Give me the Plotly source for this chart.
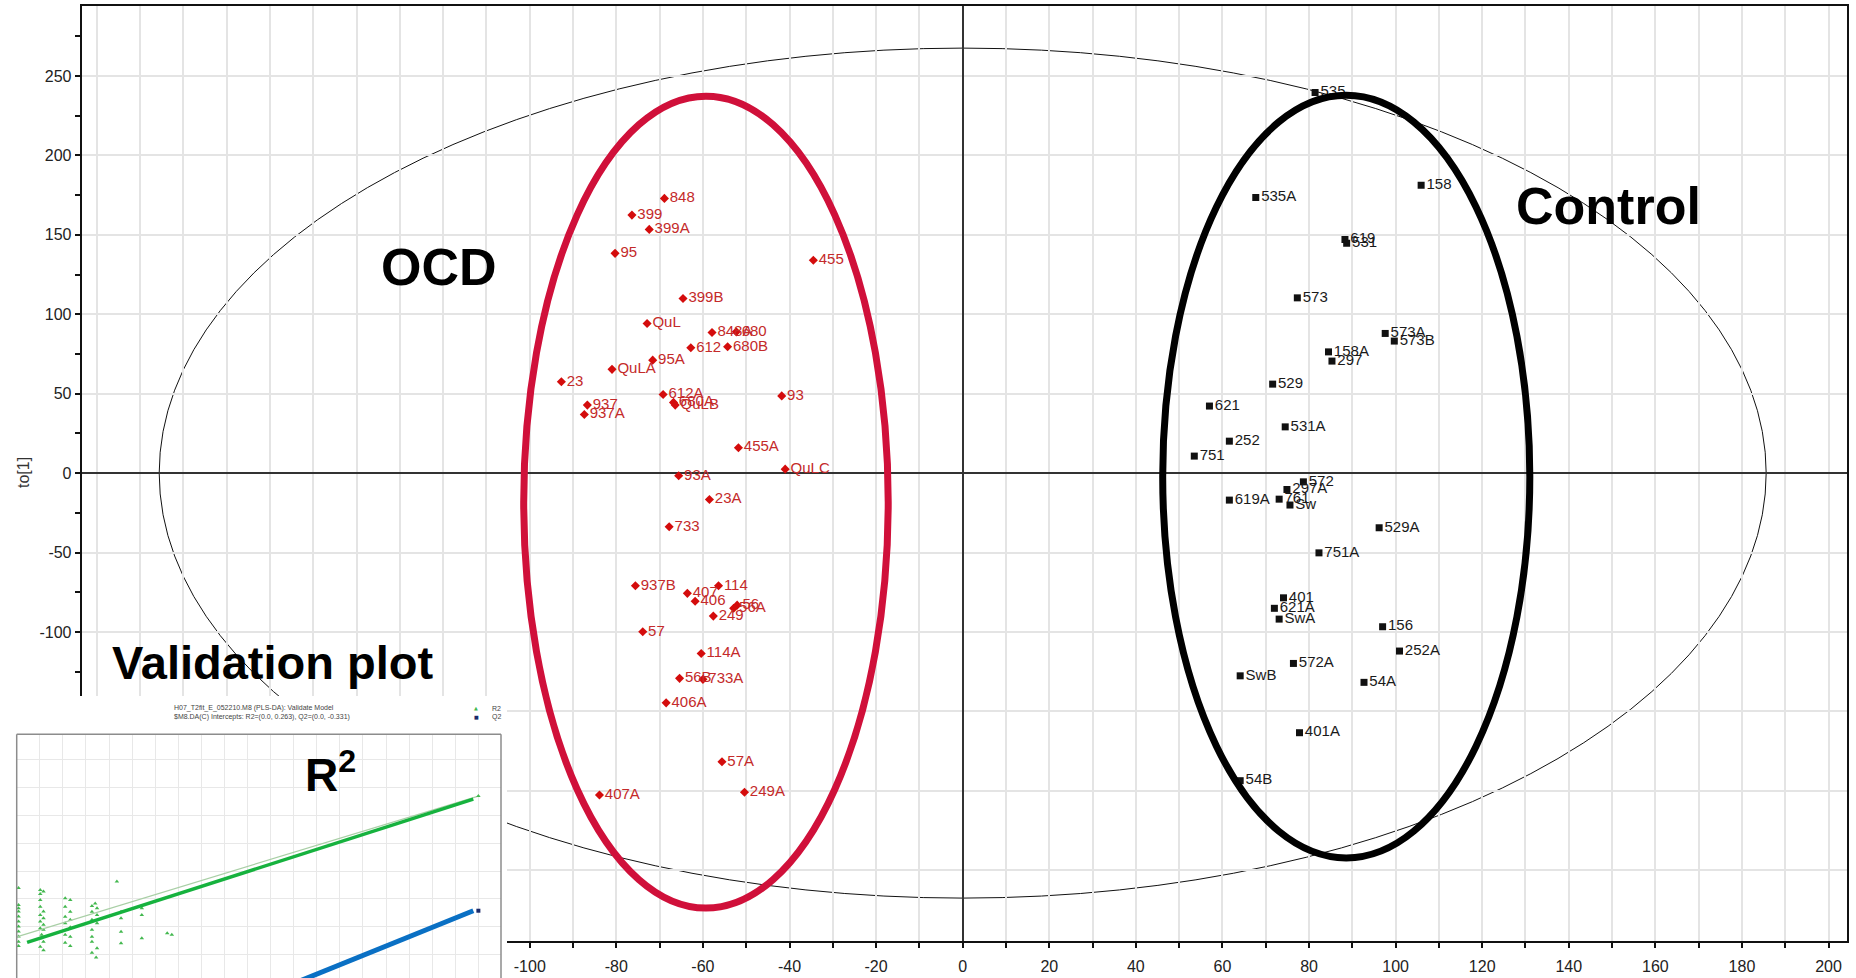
import plotly.graph_objects as go

# ---------------- score plot data (to[1] vs t[1]) ----------------
ocd_labels = ["848", "399", "399A", "95", "455", "399B", "QuL", "848A", "680", "612",
              "680B", "95A", "QuLA", "23", "612A", "680A", "QuLB", "937", "937A", "93",
              "455A", "QuLC", "93A", "23A", "733", "937B", "407", "114", "406", "56",
              "56A", "249", "57", "114A", "56B", "733A", "406A", "57A", "407A", "249A"]
ocd_t = [-68.9, -76.4, -72.4, -80.3, -34.5, -64.6, -72.9, -57.9, -52.3, -62.8,
         -54.3, -71.6, -81.0, -92.7, -69.2, -66.8, -66.4, -86.7, -87.4, -41.8,
         -51.8, -41.0, -65.6, -58.5, -67.8, -75.6, -63.6, -56.4, -61.8, -52.1,
         -52.9, -57.6, -73.9, -60.4, -65.4, -60.0, -68.5, -55.6, -83.9, -50.4]
ocd_to = [172.9, 162.4, 153.4, 138.3, 134.0, 109.9, 94.2, 88.5, 88.9, 78.9,
          79.5, 71.1, 65.3, 57.5, 49.5, 44.5, 42.8, 42.8, 36.9, 48.6,
          16.0, 2.5, -1.7, -16.6, -33.8, -70.9, -75.7, -70.9, -80.7, -83.1,
          -85.1, -90.0, -99.9, -113.5, -129.2, -129.8, -144.6, -181.7, -202.6, -200.9]

ctrl_labels = ["535", "158", "535A", "619", "531", "573", "573A", "573B", "158A", "297",
               "529", "621", "531A", "252", "751", "572", "297A", "619A", "761", "Sw",
               "529A", "751A", "401", "621A", "SwA", "156", "252A", "572A", "SwB", "54A",
               "401A", "54B"]
ctrl_t = [81.4, 105.9, 67.7, 88.3, 88.7, 77.3, 97.6, 99.7, 84.5, 85.3,
          71.6, 57.0, 74.5, 61.6, 53.5, 78.7, 74.9, 61.6, 73.1, 75.6,
          96.2, 82.3, 74.1, 72.0, 73.1, 97.0, 100.9, 76.4, 64.1, 92.7,
          77.8, 64.1]
ctrl_to = [239.6, 181.2, 173.5, 147.1, 144.6, 110.3, 87.9, 83.1, 76.3, 70.5,
           56.0, 42.2, 29.1, 20.1, 10.7, -5.5, -10.3, -17.0, -16.4, -20.1,
           -34.4, -50.2, -78.5, -85.1, -91.9, -96.7, -112.0, -119.8, -127.6, -131.7,
           -163.4, -193.6]

# Hotelling T2 (95%) ellipse semi-axes
t2_semi_t = 185.6
t2_semi_to = 267.5

# group outlines (t range, to range)
ocd_ring_t = [-101.4, -17.2]
ocd_ring_to = [-273.8, 237.2]
ctrl_ring_t = [46.2, 131.0]
ctrl_ring_to = [-242.2, 237.8]

x_tick_vals = list(range(-200, 201, 20))
x_tick_text = [str(v) for v in x_tick_vals]
y_tick_vals = list(range(-250, 251, 50))
y_tick_text = [str(v) for v in y_tick_vals]

# ---------------- permutation (validate model) data ----------------
perm_corr = [0.004, 0.004, 0.004, 0.004, 0.004, 0.004, 0.004, 0.004, 0.004, 0.004, 0.004,
             0.051, 0.058, 0.051, 0.051, 0.051, 0.058, 0.051, 0.058, 0.051, 0.058, 0.051,
             0.058, 0.054, 0.051, 0.058, 0.051, 0.058,
             0.105, 0.116, 0.105, 0.116, 0.105, 0.116, 0.105, 0.116, 0.108, 0.105, 0.116,
             0.105, 0.116,
             0.170, 0.163, 0.174, 0.163, 0.174, 0.163, 0.174, 0.163, 0.163, 0.163, 0.174,
             0.163, 0.172,
             0.217, 0.226, 0.226, 0.226, 0.226,
             0.271, 0.271, 0.271,
             0.326, 0.336]
perm_r2 = [0.439, 0.378, 0.366, 0.354, 0.336, 0.318, 0.300, 0.282, 0.264, 0.245, 0.230,
           0.432, 0.426, 0.417, 0.396, 0.371, 0.354, 0.342, 0.330, 0.318, 0.306, 0.294,
           0.288, 0.270, 0.258, 0.245, 0.227, 0.215,
           0.402, 0.396, 0.371, 0.353, 0.335, 0.324, 0.312, 0.297, 0.288, 0.270, 0.263,
           0.242, 0.230,
           0.383, 0.374, 0.366, 0.353, 0.342, 0.324, 0.312, 0.288, 0.263, 0.245, 0.222,
           0.206, 0.188,
           0.462, 0.353, 0.330, 0.281, 0.240,
           0.366, 0.342, 0.258,
           0.276, 0.270]
r2_fit_corr = [0.0, 1.0]
r2_fit_val = [0.263, 0.770]
r2_mark_corr = [0.0225, 0.989]
r2_mark_val = [0.243, 0.759]
q2_mark_corr = [0.60, 0.989]
q2_mark_val = [0.095, 0.357]
orig_corr = [1.0]
orig_r2 = [0.770]
orig_q2 = [0.357]

RED = "#d40c0c"
RED_TEXT = "#c42a2a"
RING_RED = "#d0103a"
FONT = "Liberation Sans, Arial, sans-serif"
GRID = "#e4e4e4"

fig = go.Figure()

fig.add_trace(go.Scatter(
    x=ocd_t, y=ocd_to, text=ocd_labels, mode="markers+text",
    textposition="middle right",
    marker=dict(symbol="diamond", size=7, color=RED),
    textfont=dict(family=FONT, size=15, color=RED_TEXT),
    showlegend=False, hoverinfo="skip", xaxis="x", yaxis="y"))

fig.add_trace(go.Scatter(
    x=ctrl_t, y=ctrl_to, text=ctrl_labels, mode="markers+text",
    textposition="middle right",
    marker=dict(symbol="square", size=7, color="#111111"),
    textfont=dict(family=FONT, size=15, color="#1a1a1a"),
    showlegend=False, hoverinfo="skip", xaxis="x", yaxis="y"))

# white panel holding the validation plot
fig.add_trace(go.Scatter(x=[], y=[], xaxis="x2", yaxis="y2", showlegend=False,
                         hoverinfo="skip"))

# validation plot
fig.add_trace(go.Scatter(
    x=perm_corr, y=perm_r2, mode="markers",
    marker=dict(symbol="triangle-up", size=4, color="#43b84f"),
    showlegend=False, hoverinfo="skip", xaxis="x3", yaxis="y3"))
fig.add_trace(go.Scatter(
    x=r2_fit_corr, y=r2_fit_val, mode="lines",
    line=dict(color="#a9cfa6", width=1.2),
    showlegend=False, hoverinfo="skip", xaxis="x3", yaxis="y3"))
fig.add_trace(go.Scatter(
    x=r2_mark_corr, y=r2_mark_val, mode="lines",
    line=dict(color="#16b23e", width=3.5),
    showlegend=False, hoverinfo="skip", xaxis="x3", yaxis="y3"))
fig.add_trace(go.Scatter(
    x=q2_mark_corr, y=q2_mark_val, mode="lines",
    line=dict(color="#0a70c4", width=5),
    showlegend=False, hoverinfo="skip", xaxis="x3", yaxis="y3"))
fig.add_trace(go.Scatter(
    x=orig_corr, y=orig_r2, mode="markers",
    marker=dict(symbol="triangle-up", size=4, color="#43b84f"),
    showlegend=False, hoverinfo="skip", xaxis="x3", yaxis="y3", cliponaxis=False))
fig.add_trace(go.Scatter(
    x=orig_corr, y=orig_q2, mode="markers",
    marker=dict(symbol="square", size=4, color="#1b2a6b"),
    showlegend=False, hoverinfo="skip", xaxis="x3", yaxis="y3", cliponaxis=False))

W, H = 1856, 978
px = lambda v: v / W
py = lambda v: 1 - v / H


def note(text, x, y, size, color="#000", bold=False, xanchor="center",
         yanchor="middle", family=FONT, angle=0):
    font = dict(family=family, size=size, color=color)
    if bold:
        font["weight"] = "bold"
    return dict(text=text, x=px(x), y=py(y), xref="paper", yref="paper",
                xanchor=xanchor, yanchor=yanchor, textangle=angle,
                showarrow=False, font=font)


shapes = [
    # Hotelling T2 ellipse (under the points, hidden by the inset panel)
    dict(type="circle", xref="x", yref="y", layer="below",
         x0=-t2_semi_t, x1=t2_semi_t, y0=-t2_semi_to, y1=t2_semi_to,
         line=dict(color="#111111", width=1)),
    dict(type="circle", xref="x", yref="y", layer="above",
         x0=ocd_ring_t[0], x1=ocd_ring_t[1], y0=ocd_ring_to[0], y1=ocd_ring_to[1],
         line=dict(color=RING_RED, width=7)),
    dict(type="circle", xref="x", yref="y", layer="above",
         x0=ctrl_ring_t[0], x1=ctrl_ring_t[1], y0=ctrl_ring_to[0], y1=ctrl_ring_to[1],
         line=dict(color="#000000", width=7)),
    # validation plot frame
    dict(type="line", xref="x3 domain", yref="y3 domain", x0=0, x1=0, y0=0, y1=1,
         line=dict(color="#8c8c8c", width=1.5), layer="above"),
    dict(type="line", xref="x3 domain", yref="y3 domain", x0=0, x1=1, y0=1, y1=1,
         line=dict(color="#8c8c8c", width=1.5), layer="above"),
    dict(type="line", xref="x3 domain", yref="y3 domain", x0=1, x1=1, y0=0, y1=1,
         line=dict(color="#8c8c8c", width=1.5), layer="above"),
]

annotations = [
    note("to[1]", 24, 473, 16, color="#333", angle=-90),
    note("OCD", 439, 267, 52, bold=True),
    note("Control", 1608, 206, 52, bold=True),
    note("Validation plot", 272.5, 662, 47, bold=True),
    note("R<sup>2</sup>", 303, 772, 46, bold=True, xanchor="left"),
    note("H07_T2fit_E_052210.M8 (PLS-DA): Validate Model", 172, 708, 7,
         color="#444", xanchor="left"),
    note("$M8.DA(C) Intercepts: R2=(0.0, 0.263), Q2=(0.0, -0.331)", 172, 717, 7,
         color="#444", xanchor="left"),
    note("\u25b2", 476, 708, 5, color="#43b84f", family="DejaVu Sans"),
    note("\u25a0", 476, 717, 5, color="#1b2a6b", family="DejaVu Sans"),
    note("R2", 490, 708, 7, color="#444", xanchor="left"),
    note("Q2", 490, 717, 7, color="#444", xanchor="left"),
]

fig.update_layout(
    width=W, height=H,
    margin=dict(l=0, r=0, t=0, b=0),
    paper_bgcolor="white", plot_bgcolor="white",
    font=dict(family=FONT, color="#222"),
    showlegend=False,
    xaxis=dict(
        domain=[81.7 / W, 1846.7 / W], range=[-203.5, 204.2], anchor="y",
        tickmode="array", tickvals=x_tick_vals, ticktext=x_tick_text,
        ticks="outside", ticklen=5, tickwidth=1.5, tickcolor="#111",
        ticklabelstandoff=5,
        tickfont=dict(family=FONT, size=16, color="#222"),
        showgrid=True, gridcolor=GRID, gridwidth=1.5,
        minor=dict(tickmode="linear", tick0=0, dtick=10, ticks="outside", ticklen=5,
                   tickwidth=1.5, tickcolor="#111", showgrid=True, gridcolor=GRID,
                   gridwidth=1.5),
        zeroline=True, zerolinecolor="#333", zerolinewidth=1.5,
        showline=True, linecolor="#111", linewidth=2, mirror=True),
    yaxis=dict(
        domain=[1 - 941 / H, 1 - 6 / H], range=[-294.5, 294], anchor="x",
        tickmode="array", tickvals=y_tick_vals, ticktext=y_tick_text,
        ticks="outside", ticklen=5, tickwidth=1.5, tickcolor="#111",
        tickfont=dict(family=FONT, size=16, color="#222"),
        showgrid=True, gridcolor=GRID, gridwidth=1.5,
        minor=dict(tickmode="linear", tick0=0, dtick=25, ticks="outside", ticklen=5,
                   tickwidth=1.5, tickcolor="#111", showgrid=False),
        zeroline=True, zerolinecolor="#333", zerolinewidth=1.5,
        showline=True, linecolor="#111", linewidth=2, mirror=True),
    xaxis2=dict(domain=[0, 507 / W], range=[0, 1], anchor="y2", visible=False),
    yaxis2=dict(domain=[0, 1 - 696 / H], range=[0, 1], anchor="x2", visible=False),
    xaxis3=dict(domain=[16.7 / W, 501 / W], range=[0, 1.049], anchor="y3",
                tickmode="linear", tick0=0, dtick=0.05, showticklabels=False, ticks="",
                showgrid=True, gridcolor="#e8e8e8", gridwidth=1, zeroline=False,
                showline=False),
    yaxis3=dict(domain=[0, 1 - 734.3 / H], range=[0.1146, 0.9925], anchor="x3",
                tickmode="linear", tick0=0, dtick=0.1, showticklabels=False, ticks="",
                showgrid=True, gridcolor="#e8e8e8", gridwidth=1, zeroline=False,
                showline=False),
    shapes=shapes,
    annotations=annotations,
)

fig.write_html("out.html")
